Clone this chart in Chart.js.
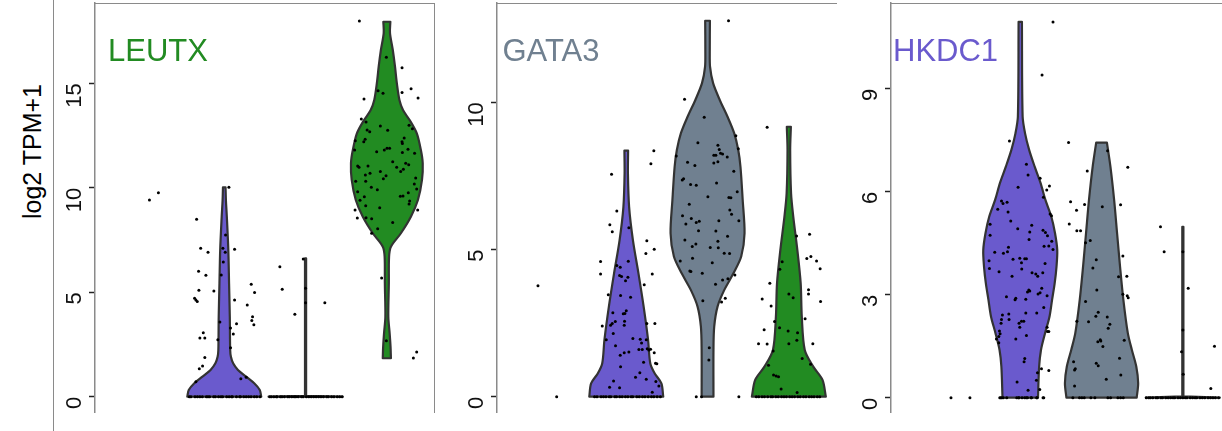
<!DOCTYPE html>
<html><head><meta charset="utf-8">
<script src="https://cdn.jsdelivr.net/npm/chart.js@4/dist/chart.umd.min.js"></script>
<style>
html,body{margin:0;padding:0;width:1222px;height:431px;overflow:hidden;background:#fff;font-family:"Liberation Sans",Arial,sans-serif;}
canvas{position:absolute;top:0;}
.gene{position:absolute;top:34.8px;font-size:31px;line-height:31px;white-space:nowrap;}
#ytitle{position:absolute;left:-68px;top:138.5px;width:200px;height:25px;line-height:25px;font-size:25px;text-align:center;transform:rotate(-90deg);color:#000;white-space:nowrap}
#vline{position:absolute;left:52.5px;top:0;width:1.5px;height:431px;background:#8a8a8a}
.frame{position:absolute;top:2.5px;height:410px;border-top:1.5px solid #8a8a8a;box-sizing:border-box}
</style></head><body>
<div id="vline"></div>
<div id="ytitle">log2 TPM+1</div>
<div class="frame" style="left:95px;width:340px;border-right:1.5px solid #8a8a8a"></div>
<div class="frame" style="left:497px;width:340px"></div>
<div class="frame" style="left:891px;width:340px"></div>
<canvas id="c1" width="403" height="431" style="left:35px"></canvas>
<canvas id="c2" width="403" height="431" style="left:437px"></canvas>
<canvas id="c3" width="403" height="431" style="left:831px"></canvas>
<div class="gene" style="left:108px;color:#228B22">LEUTX</div>
<div class="gene" style="left:502.5px;color:#708090">GATA3</div>
<div class="gene" style="left:893px;color:#6A5ACD">HKDC1</div>
<script>
// ---------- categories / colours ----------
const groupColors = ['#6A5ACD', '#708090', '#228B22'];
const genes = ['LEUTX', 'GATA3', 'HKDC1'];

// ---------- tick labels ----------
const leutxTicks = [0, 5, 10, 15];
const gata3Ticks = [0, 5, 10];
const hkdc1Ticks = [0, 3, 6, 9];

// ---------- violin profiles (level, relative half-width) ----------
const leutxPurpleLv = [0, 0.32, 0.64, 0.96, 1.28, 1.6, 1.91, 2.23, 3.83, 5.43, 7.02, 8.6, 9.4, 10.02];
const leutxPurpleW  = [1.0, 0.96, 0.81, 0.59, 0.37, 0.24, 0.18, 0.16, 0.15, 0.13, 0.11, 0.07, 0.045, 0.035];
const leutxGreyLv = [0, 0.04, 6.62];
const leutxGreyW  = [1.0, 0.015, 0.015];
const leutxGreenLv = [1.84, 2.39, 3.03, 3.83, 5.43, 6.7, 7.18, 7.82, 8.61, 9.41, 10.37, 11.17, 11.8, 12.6, 13.2, 13.7, 14.2, 15.0, 15.8, 16.6, 17.4, 17.94];
const leutxGreenW  = [0.11, 0.10, 0.076, 0.04, 0.054, 0.06, 0.11, 0.38, 0.65, 0.84, 0.95, 0.97, 0.92, 0.81, 0.63, 0.44, 0.34, 0.27, 0.22, 0.16, 0.085, 0.095];

const gata3PurpleLv = [0, 0.45, 0.79, 1.13, 1.93, 3.06, 4.19, 5.32, 6.45, 7.59, 8.36];
const gata3PurpleW  = [1.0, 0.95, 0.77, 0.65, 0.59, 0.47, 0.33, 0.18, 0.077, 0.045, 0.05];
const gata3GreyLv = [0, 1.59, 2.38, 3.06, 3.62, 4.19, 4.76, 5.55, 6.68, 7.81, 8.38, 8.95, 9.51, 10.08, 10.65, 11.2, 11.78, 12.77];
const gata3GreyW  = [0.16, 0.16, 0.18, 0.27, 0.45, 0.70, 0.91, 1.0, 0.95, 0.89, 0.83, 0.72, 0.54, 0.33, 0.15, 0.068, 0.06, 0.064];
const gata3GreenLv = [0, 0.57, 1.02, 1.59, 2.72, 3.85, 4.98, 6.11, 6.91, 8.38, 9.17];
const gata3GreenW  = [1.0, 0.91, 0.66, 0.43, 0.35, 0.32, 0.23, 0.12, 0.06, 0.036, 0.055];

const hkdc1PurpleLv = [0, 0.9, 1.39, 1.88, 2.36, 2.85, 3.33, 3.82, 4.30, 4.79, 5.27, 5.76, 6.25, 6.73, 7.22, 7.7, 8.19, 10.95];
const hkdc1PurpleW  = [0.48, 0.51, 0.56, 0.67, 0.79, 0.86, 0.93, 0.98, 1.0, 0.94, 0.84, 0.68, 0.55, 0.39, 0.24, 0.13, 0.064, 0.045];
const hkdc1GreyLv = [0, 0.42, 0.9, 1.39, 1.88, 2.85, 3.82, 4.79, 5.76, 6.73, 7.43];
const hkdc1GreyW  = [0.95, 0.99, 0.94, 0.82, 0.71, 0.59, 0.5, 0.42, 0.34, 0.24, 0.145];
const hkdc1GreenLv = [0, 0.04, 4.98];
const hkdc1GreenW  = [1.0, 0.015, 0.015];

// ---------- cells: expression values and jitter ----------
const leutxC1Vals = [9.41, 9.76];
const leutxC1Jit  = [0.08, 0.19];
const leutxPurpleVals = [10.02, 8.49, 7.74, 7.10, 7.10, 6.91, 6.91, 7.05, 6.44, 6.00, 5.81, 5.82, 5.06, 5.09, 4.71, 4.63, 4.55, 4.63, 5.38, 4.98, 4.39, 3.83, 3.64, 3.44, 3.57, 3.49, 3.29, 3.00, 3.06, 2.81, 2.81, 2.73, 2.34, 1.88, 1.47, 1.34, 0.72, 0.86, 0.93];
const leutxPurpleJit  = [0.057, -0.34, 0.016, -0.29, -0.017, 0.012, -0.20, 0.127, -0.012, -0.316, -0.226, -0.037, -0.128, -0.312, -0.365, -0.349, -0.332, 0.127, 0.332, 0.373, 0.283, 0.348, 0.339, 0.364, -0.054, 0.151, 0.077, 0.111, -0.258, -0.30, -0.239, -0.079, 0.077, -0.239, -0.267, -0.307, -0.349, 0.204, 0.27];
const leutxPurpleZeroJit = [-0.43, -0.41, -0.36, -0.33, -0.3, -0.27, -0.22, -0.2, -0.18, -0.13, -0.11, -0.07, -0.04, -0.02, 0.03, 0.06, 0.09, 0.1, 0.15, 0.19, 0.2, 0.24, 0.27, 0.3, 0.33, 0.37, 0.4, 0.44];
const leutxGreyVals = [6.22, 5.14, 3.94, 6.59, 4.50, 5.19, 4.50];
const leutxGreyJit  = [-0.316, -0.287, -0.132, -0.028, 0.237, 0, 0];
const leutxGreyZeroJit = [-0.44, -0.42, -0.39, -0.36, -0.35, -0.31, -0.29, -0.26, -0.22, -0.2, -0.17, -0.14, -0.12, -0.09, -0.05, -0.03, 0.01, 0.04, 0.07, 0.1, 0.13, 0.16, 0.19, 0.22, 0.26, 0.28, 0.32, 0.35, 0.39, 0.42, 0.45];
const leutxGreenVals = [17.98, 16.24, 15.74, 14.64, 14.52, 14.56, 14.74, 14.29, 14.24, 13.29, 13.14, 12.95, 12.99, 12.82, 12.76, 12.68, 12.75, 12.25, 12.20, 12.32, 12.38, 12.20, 12.12, 11.89, 11.89, 11.80, 11.72, 11.84, 11.80, 11.69, 11.65, 11.24, 11.17, 11.10, 11.04, 10.98, 11.04, 10.98, 10.88, 10.77, 10.77, 10.69, 10.61, 10.57, 10.43, 10.46, 10.31, 10.31, 10.18, 10.02, 9.90, 9.94, 9.81, 9.76, 9.59, 9.60, 9.57, 9.40, 9.36, 9.22, 9.14, 9.04, 8.93, 8.93, 8.55, 8.56, 8.52, 8.34, 8.04, 7.82, 5.68, 2.68, 2.14, 1.85];
const leutxGreenJit  = [-0.338, -0.006, 0.187, -0.108, -0.047, 0.187, 0.298, 0.384, -0.281, -0.314, -0.256, -0.080, 0.273, 0.314, -0.243, -0.211, 0.010, -0.388, -0.284, -0.267, 0.213, 0.187, 0.191, 0.002, 0.034, -0.031, -0.125, 0.260, -0.396, 0.191, 0.341, 0.072, 0.232, 0.269, -0.359, -0.342, -0.232, 0.121, 0.203, 0.170, -0.080, -0.207, -0.264, -0.010, -0.043, 0.355, -0.383, -0.260, 0.338, -0.191, -0.117, 0.367, -0.359, 0.264, 0.166, 0.199, -0.277, -0.330, 0.280, 0.273, -0.260, -0.088, -0.391, 0.379, -0.363, -0.256, -0.187, 0.072, -0.113, -0.187, -0.064, -0.006, 0.367, 0.326];

const gata3C1Vals = [3.77, 0];
const gata3C1Jit  = [-0.086, 0.144];
const gata3PurpleVals = [7.56, 8.35, 7.91, 6.31, 5.74, 5.84, 5.60, 5.30, 5.01, 4.86, 4.59, 4.60, 4.46, 4.40, 4.17, 4.17, 4.12, 4.08, 4.06, 3.94, 3.80, 3.46, 3.44, 3.38, 2.85, 2.82, 2.83, 2.92, 2.49, 2.43, 2.55, 2.56, 2.43, 2.40, 2.15, 2.49, 2.49, 1.93, 1.98, 1.95, 1.93, 1.82, 1.73, 1.60, 1.60, 1.63, 1.59, 1.61, 1.49, 1.49, 1.52, 1.41, 1.17, 1.14, 1.12, 1.02, 0.81, 0.66, 0.59, 0.53, 0.52, 0.32, 0.30, 0.36, 0.15];
const gata3PurpleJit  = [-0.181, 0.339, 0.303, -0.116, 0.032, -0.202, -0.172, 0.253, 0.344, 0.241, -0.316, 0.025, -0.116, -0.074, -0.316, 0.320, -0.082, -0.058, 0.020, -0.009, 0.221, -0.221, -0.070, 0.053, -0.165, -0.037, -0.017, 0, -0.172, -0.193, -0.135, -0.021, -0.025, -0.295, -0.160, 0.253, 0.352, -0.246, 0.081, 0.172, 0.246, 0.188, -0.132, 0.155, 0.197, 0.258, 0.278, 0.299, 0.344, -0.025, 0.032, -0.074, 0.213, 0.360, 0.376, -0.070, 0.167, 0.114, 0.246, -0.156, 0.364, -0.205, -0.082, 0.401, 0.320];
const gata3PurpleZeroJit = [-0.39, -0.36, -0.31, -0.28, -0.25, -0.21, -0.19, -0.14, -0.12, -0.08, -0.05, -0.01, 0.02, 0.06, 0.08, 0.13, 0.16, 0.2, 0.23, 0.27, 0.31, 0.34, 0.38, 0.42];
const gata3GreyVals = [12.77, 10.10, 9.49, 8.86, 8.63, 8.54, 8.40, 8.42, 8.18, 8.20, 8.20, 8.27, 8.24, 8.14, 7.96, 7.94, 7.98, 7.85, 7.66, 7.36, 7.40, 7.21, 7.18, 7.26, 6.96, 6.79, 6.77, 6.76, 6.54, 6.34, 6.20, 6.15, 6.05, 5.98, 5.98, 5.87, 5.92, 5.96, 5.64, 5.63, 5.45, 5.32, 5.19, 5.10, 5.07, 5.06, 5.28, 4.87, 4.86, 4.70, 4.61, 4.55, 4.27, 4.25, 4.19, 4.13, 4.01, 3.96, 3.82, 3.26, 3.22, 3.34, 1.66, 1.25, 0, 0, 0];
const gata3GreyJit  = [0.258, -0.283, -0.041, 0.348, -0.119, 0.127, 0.144, 0.378, -0.385, 0.077, 0.102, 0.160, 0.185, 0.242, -0.246, 0.077, 0.127, -0.156, 0.323, -0.311, -0.295, -0.209, -0.139, 0.111, 0.365, 0.004, 0.262, 0.287, -0.225, 0.274, 0.295, -0.308, -0.200, 0.139, 0.385, -0.267, -0.139, -0.102, -0.111, 0.102, 0.246, -0.279, -0.144, -0.188, 0.033, 0.132, 0.127, 0.205, 0.271, -0.185, -0.336, 0.058, -0.218, -0.205, -0.065, 0.336, 0.250, 0.185, 0.098, -0.058, 0.172, 0.218, 0.021, 0.016, -0.139, -0.074, 0.385];
const gata3GreenVals = [9.15, 5.46, 5.52, 4.69, 4.76, 4.61, 4.35, 4.58, 4.33, 3.85, 3.32, 3.08, 3.49, 3.36, 3.63, 3.49, 3.23, 2.55, 2.34, 2.27, 2.23, 2.17, 2.65, 1.80, 1.79, 1.80, 1.92, 1.80, 1.55, 1.30, 1.07, 1.10, 0.74, 0.70, 0.68, 0.26, 0.14];
const gata3GreenJit  = [-0.267, 0.095, 0.255, 0.221, 0.271, 0.341, 0.385, -0.082, -0.111, -0.234, -0.328, -0.218, 0, 0.053, 0.242, 0.242, 0.390, -0.176, -0.114, -0.304, -0.009, 0.107, 0.200, -0.373, -0.267, 0, 0.098, 0.295, -0.193, 0.164, -0.250, 0.267, -0.188, -0.156, -0.127, -0.095, 0.102];
const gata3GreenZeroJit = [-0.4, -0.37, -0.33, -0.3, -0.26, -0.22, -0.2, -0.16, -0.13, -0.09, -0.06, -0.03, 0.01, 0.04, 0.07, 0.11, 0.14, 0.18, 0.21, 0.25, 0.28, 0.31, 0.35, 0.38];

const hkdc1C1Vals = [0, 0];
const hkdc1C1Jit  = [0.148, 0.381];
const hkdc1PurpleVals = [10.94, 9.40, 7.48, 6.80, 6.49, 6.39, 6.13, 6.17, 6.05, 5.84, 5.73, 5.66, 5.69, 5.49, 5.41, 5.35, 5.30, 5.15, 5.05, 5.02, 4.92, 4.83, 4.88, 4.81, 4.72, 4.73, 4.61, 4.56, 4.41, 4.42, 4.32, 4.38, 4.25, 4.21, 4.24, 4.03, 4.06, 4.05, 4.05, 3.93, 3.91, 3.99, 3.76, 3.75, 3.67, 3.64, 3.60, 3.64, 3.54, 3.54, 3.14, 3.11, 3.08, 3.19, 3.02, 3.06, 2.97, 2.94, 2.90, 2.85, 2.87, 2.63, 2.47, 2.47, 2.41, 2.44, 2.28, 2.28, 2.23, 2.23, 2.17, 2.17, 2.05, 2.05, 1.93, 1.93, 1.81, 1.94, 1.86, 1.78, 1.71, 1.71, 1.60, 1.14, 1.05, 0.84, 0.79, 0.73, 0.51, 0.46, 0.24, 0.22];
const hkdc1PurpleJit  = [0.403, 0.268, -0.133, 0.076, 0.096, 0.244, -0.027, 0.359, 0.326, 0.285, -0.231, -0.212, -0.162, -0.277, -0.150, 0.367, 0.384, -0.117, -0.371, 0.141, -0.031, 0.117, 0.280, 0.310, 0.335, -0.371, 0.108, 0.387, 0.293, 0.351, 0.403, -0.145, -0.157, -0.207, -0.314, -0.089, -0.006, 0.055, 0.076, 0.015, 0.305, -0.384, -0.379, 0.018, -0.261, 0.145, 0.191, 0.277, 0.215, -0.101, 0.105, 0.117, 0.089, 0.264, 0.219, 0.244, 0.330, -0.170, -0.055, -0.064, 0.068, 0.289, 0.203, 0.068, -0.219, -0.141, -0.231, -0.138, 0.015, 0.043, -0.236, -0.015, -0.006, 0.330, 0.335, 0.351, 0.076, -0.256, -0.248, -0.264, -0.293, -0.055, -0.264, 0.055, 0.047, 0.261, 0.351, 0.212, 0.199, -0.039, 0.240, 0.096];
const hkdc1PurpleZeroJit = [-0.252, -0.24, -0.228, -0.21, -0.166, -0.043, -0.022, -0.015, 0.022, 0.055, 0.076, 0.089, 0.133, 0.138, 0.203, 0.207, 0.28, 0.289];
const hkdc1GreyVals = [7.43, 7.19, 6.60, 6.71, 5.71, 5.63, 5.56, 5.62, 5.46, 5.06, 4.86, 4.86, 4.58, 4.51, 4.02, 4.13, 3.78, 3.52, 3.54, 3.14, 3.01, 2.97, 2.91, 2.80, 2.49, 2.37, 2.23, 2.21, 2.35, 2.14, 2.02, 1.67, 1.63, 1.69, 1.65, 1.49, 1.05, 0.84, 0.81, 1.00, 0.93, 1.15, 0.66, 0.54, 0.34];
const hkdc1GreyJit  = [-0.406, 0.074, -0.176, 0.323, -0.381, -0.209, 0.009, 0.234, -0.308, -0.397, -0.304, -0.258, -0.139, -0.197, -0.065, 0.262, -0.107, 0.209, 0.311, -0.058, 0.262, 0.316, 0.328, -0.197, -0.041, -0.070, -0.304, -0.160, 0.070, 0.102, 0.082, 0.279, -0.046, -0.016, -0.009, 0.016, -0.344, -0.323, -0.332, -0.065, -0.041, 0.221, 0.237, 0.058, -0.332];
const hkdc1GreyZeroJit = [-0.353, -0.271, -0.242, -0.213, -0.131, -0.082, 0.078, 0.111, 0.201, 0.234, 0.267];
const hkdc1GreenVals = [4.98, 4.25, 3.19, 1.34, 0.68, 1.50, 0.27, 4.25, 1.97];
const hkdc1GreenJit  = [-0.275, -0.230, 0.066, -0.016, 0.004, 0.389, 0.344, 0, 0];
const hkdc1GreenZeroJit = [-0.45, -0.42, -0.4, -0.37, -0.33, -0.31, -0.27, -0.25, -0.21, -0.18, -0.15, -0.12, -0.1, -0.06, -0.03, 0.0, 0.03, 0.05, 0.09, 0.12, 0.15, 0.17, 0.21, 0.24, 0.27, 0.31, 0.34, 0.37, 0.4, 0.44];

// ---------- building ----------
const HALF = 0.455; // max violin half-width in category units
function violinPts(center, lv, w) {
  const n = lv.length;
  const pts = [{x: center, y: lv[0]}];
  pts.push({x: center + w[0] * HALF, y: lv[0]});
  for (let i = 0; i < n; i++) pts.push({x: center + w[i] * HALF, y: lv[i]});
  pts.push({x: center + w[n-1] * HALF, y: lv[n-1]});
  pts.push({x: center - w[n-1] * HALF, y: lv[n-1]});
  for (let i = n - 1; i >= 0; i--) pts.push({x: center - w[i] * HALF, y: lv[i]});
  pts.push({x: center - w[0] * HALF, y: lv[0]});
  pts.push({x: center, y: lv[0]});
  return pts;
}
function violinDs(center, lv, w, color, tension) {
  return {type: 'scatter', data: violinPts(center, lv, w), showLine: true, fill: 'shape',
    backgroundColor: color, borderColor: '#333333', borderWidth: 2.2, borderJoinStyle: 'round',
    pointRadius: 0, tension: tension, order: 1};
}
function dotsDs(center, vals, jit, zeroJit) {
  const pts = vals.map((v, i) => ({x: center + jit[i], y: v}));
  (zeroJit || []).forEach(j => pts.push({x: center + j, y: 0}));
  return {type: 'scatter', data: pts, showLine: false, pointRadius: 1.5, pointBackgroundColor: '#000',
    pointBorderWidth: 0, order: 0};
}
function yScale(min, max, ticksArr) {
  return {
    type: 'linear', min: min, max: max,
    afterBuildTicks: s => { s.ticks = ticksArr.map(v => ({value: v})); },
    afterFit: s => { s.width = 60; s.paddingTop = 0; s.paddingBottom = 0; s.paddingLeft = 0; s.paddingRight = 0; },
    grid: {display: true, drawOnChartArea: false, drawTicks: true, tickLength: 6, tickColor: '#222', tickWidth: 1.5},
    border: {display: true, color: '#8a8a8a', width: 1.5},
    ticks: {padding: 14, minRotation: 90, maxRotation: 90, color: '#111',
      font: {family: '"Liberation Sans", Arial, sans-serif', size: 22}, callback: v => String(v)}
  };
}
function makeChart(id, datasets, ymin, ymax, ticksArr) {
  return new Chart(document.getElementById(id), {
    type: 'scatter',
    data: {datasets: datasets},
    options: {
      responsive: false, animation: false, events: [], devicePixelRatio: 1,
      layout: {padding: {left: 0, right: 4, top: 3, bottom: 19}, autoPadding: false},
      plugins: {legend: {display: false}, tooltip: {enabled: false}, title: {display: false}},
      scales: {
        x: {type: 'linear', display: false, min: 0.41, max: 4.58},
        y: yScale(ymin, ymax, ticksArr)
      }
    }
  });
}

makeChart('c1', [
  dotsDs(1, leutxC1Vals, leutxC1Jit),
  dotsDs(2, leutxPurpleVals, leutxPurpleJit, leutxPurpleZeroJit),
  dotsDs(3, leutxGreyVals, leutxGreyJit, leutxGreyZeroJit),
  dotsDs(4, leutxGreenVals, leutxGreenJit),
  violinDs(2, leutxPurpleLv, leutxPurpleW, groupColors[0], 0.3),
  violinDs(3, leutxGreyLv, leutxGreyW, groupColors[1], 0),
  violinDs(4, leutxGreenLv, leutxGreenW, groupColors[2], 0.3)
], -0.732, 18.837, leutxTicks);

makeChart('c2', [
  dotsDs(1, gata3C1Vals, gata3C1Jit),
  dotsDs(2, gata3PurpleVals, gata3PurpleJit, gata3PurpleZeroJit),
  dotsDs(3, gata3GreyVals, gata3GreyJit),
  dotsDs(4, gata3GreenVals, gata3GreenJit, gata3GreenZeroJit),
  violinDs(2, gata3PurpleLv, gata3PurpleW, groupColors[0], 0.3),
  violinDs(3, gata3GreyLv, gata3GreyW, groupColors[1], 0.3),
  violinDs(4, gata3GreenLv, gata3GreenW, groupColors[2], 0.3)
], -0.52, 13.373, gata3Ticks);

makeChart('c3', [
  dotsDs(1, hkdc1C1Vals, hkdc1C1Jit),
  dotsDs(2, hkdc1PurpleVals, hkdc1PurpleJit, hkdc1PurpleZeroJit),
  dotsDs(3, hkdc1GreyVals, hkdc1GreyJit, hkdc1GreyZeroJit),
  dotsDs(4, hkdc1GreenVals, hkdc1GreenJit, hkdc1GreenZeroJit),
  violinDs(2, hkdc1PurpleLv, hkdc1PurpleW, groupColors[0], 0.3),
  violinDs(3, hkdc1GreyLv, hkdc1GreyW, groupColors[1], 0.3),
  violinDs(4, hkdc1GreenLv, hkdc1GreenW, groupColors[2], 0)
], -0.4166, 11.497, hkdc1Ticks);
</script>
</body></html>
